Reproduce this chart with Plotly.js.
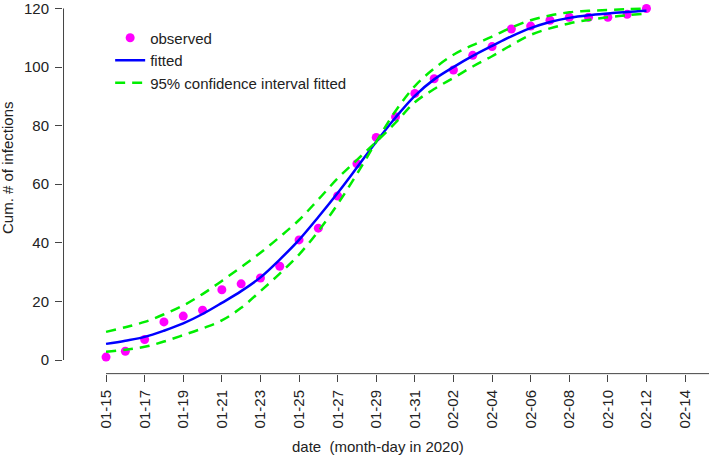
<!DOCTYPE html>
<html>
<head>
<meta charset="utf-8">
<script src="https://cdn.plot.ly/plotly-3.0.1.min.js"></script>
<style>
  html, body { margin: 0; padding: 0; background: #fff; }
  #chart { width: 709px; height: 460px; }
</style>
</head>
<body>
<div id="chart"></div>
<script>
// ---- data ----
const dates = [
  "2020-01-15","2020-01-16","2020-01-17","2020-01-18","2020-01-19","2020-01-20",
  "2020-01-21","2020-01-22","2020-01-23","2020-01-24","2020-01-25","2020-01-26",
  "2020-01-27","2020-01-28","2020-01-29","2020-01-30","2020-01-31","2020-02-01",
  "2020-02-02","2020-02-03","2020-02-04","2020-02-05","2020-02-06","2020-02-07",
  "2020-02-08","2020-02-09","2020-02-10","2020-02-11","2020-02-12"
];
const observed = [1, 3, 7, 13, 15, 17, 24, 26, 28, 32, 41, 45, 56, 67, 76, 83, 91, 96,
  99, 104, 107, 113, 114, 116, 117, 117, 117, 118, 120];
const fitted = [5.5, 6.6, 7.9, 10.0, 12.5, 15.7, 19.5, 23.5, 28.2, 34.3, 41.0, 48.8,
  57.0, 65.7, 74.5, 82.8, 90.2, 95.8, 100.0, 103.8, 107.2, 110.5, 113.3, 115.4,
  116.8, 117.7, 118.3, 118.8, 119.2];
const ciA = [9.6, 11.2, 13.0, 15.6, 18.6, 22.5, 27.0, 31.7, 36.6, 42.0, 47.8, 54.8,
  62.0, 68.3, 74.5, 81.0, 88.0, 92.5, 96.3, 100.2, 103.7, 107.5, 111.0, 113.2,
  114.9, 116.1, 117.0, 117.7, 118.3];
const ciB = [2.8, 3.5, 4.5, 6.3, 8.5, 10.8, 13.5, 17.8, 23.5, 29.5, 36.0, 44.0,
  53.2, 63.5, 74.5, 85.0, 93.5, 99.5, 104.2, 107.5, 110.4, 113.5, 116.0, 117.6,
  118.7, 119.2, 119.5, 119.8, 120.0];
const xTickDates = ["2020-01-15","2020-01-17","2020-01-19","2020-01-21","2020-01-23",
  "2020-01-25","2020-01-27","2020-01-29","2020-01-31","2020-02-02","2020-02-04",
  "2020-02-06","2020-02-08","2020-02-10","2020-02-12","2020-02-14"];
const xTickLabels = ["01-15","01-17","01-19","01-21","01-23","01-25","01-27","01-29",
  "01-31","02-02","02-04","02-06","02-08","02-10","02-12","02-14"];
const yTicks = [0, 20, 40, 60, 80, 100, 120];

// ---- styling ----
const FONT = "Liberation Sans, Arial, Helvetica, sans-serif";
const TXT = "#222222";
const AX = "#444444";
const DAY = 86400000;
const t0 = Date.UTC(2020, 0, 15);
const xRange = [t0 - 2.23 * DAY, t0 + 31.24 * DAY];

const traces = [
  {
    x: dates, y: observed, type: "scatter", mode: "markers", name: "observed",
    marker: { color: "#FF00FF", size: 9 }, cliponaxis: false
  },
  {
    x: dates, y: fitted, type: "scatter", mode: "lines", name: "fitted",
    line: { color: "#0000FF", width: 2.5, shape: "spline", smoothing: 1 }
  },
  {
    x: dates, y: ciA, type: "scatter", mode: "lines", name: "95% confidence interval fitted",
    line: { color: "#00EE00", width: 2.5, dash: "10px,7px", shape: "spline", smoothing: 1 },
    legendgroup: "ci"
  },
  {
    x: dates, y: ciB, type: "scatter", mode: "lines", name: "95% confidence interval fitted",
    line: { color: "#00EE00", width: 2.5, dash: "10px,7px", shape: "spline", smoothing: 1 },
    legendgroup: "ci", showlegend: false
  }
];

const layout = {
  width: 709, height: 460,
  margin: { l: 63, r: 0, t: 6, b: 86, pad: 0 },
  paper_bgcolor: "#ffffff", plot_bgcolor: "#ffffff",
  font: { family: FONT, size: 15, color: TXT },
  showlegend: true,
  legend: {
    x: 0.073, y: 0.958, xanchor: "left", yanchor: "top",
    bgcolor: "rgba(0,0,0,0)", borderwidth: 0,
    font: { family: FONT, size: 15, color: TXT },
    tracegroupgap: 0
  },
  xaxis: {
    type: "date", range: xRange,
    tickmode: "array", tickvals: xTickDates, ticktext: xTickLabels, tickangle: -90,
    ticks: "outside", ticklen: 7, tickwidth: 1, tickcolor: AX,
    showline: false, showgrid: false, zeroline: false,
    tickfont: { family: FONT, size: 15, color: TXT },
    ticklabelstandoff: 2
  },
  yaxis: {
    range: [-4.78, 120.85],
    tickmode: "array", tickvals: yTicks, ticktext: yTicks.map(String),
    ticks: "outside", ticklen: 7, tickwidth: 1, tickcolor: AX,
    showline: false, showgrid: false, zeroline: false,
    tickfont: { family: FONT, size: 15, color: TXT },
    ticklabelstandoff: 3, ticklabeloverflow: "allow"
  },
  shapes: [
    { type: "line", xref: "paper", yref: "y", x0: 0.0008, x1: 0.0008, y0: 0, y1: 120,
      line: { color: AX, width: 1 } },
    { type: "line", xref: "x", yref: "paper", x0: "2020-01-15", x1: xRange[1], y0: 0.001, y1: 0.001,
      line: { color: AX, width: 1 } }
  ],
  annotations: [
    { text: "Cum. # of infections", xref: "paper", yref: "paper",
      x: -0.085, y: 0.56, xanchor: "center", yanchor: "middle",
      textangle: -90, showarrow: false, font: { family: FONT, size: 15, color: TXT } },
    { text: "date\u00a0 (month-day in 2020)", xref: "paper", yref: "paper",
      x: 0.4876, y: -0.198, xanchor: "center", yanchor: "middle",
      showarrow: false, font: { family: FONT, size: 15, color: TXT } }
  ]
};

Plotly.newPlot("chart", traces, layout, { displayModeBar: false, staticPlot: true });
</script>
</body>
</html>
